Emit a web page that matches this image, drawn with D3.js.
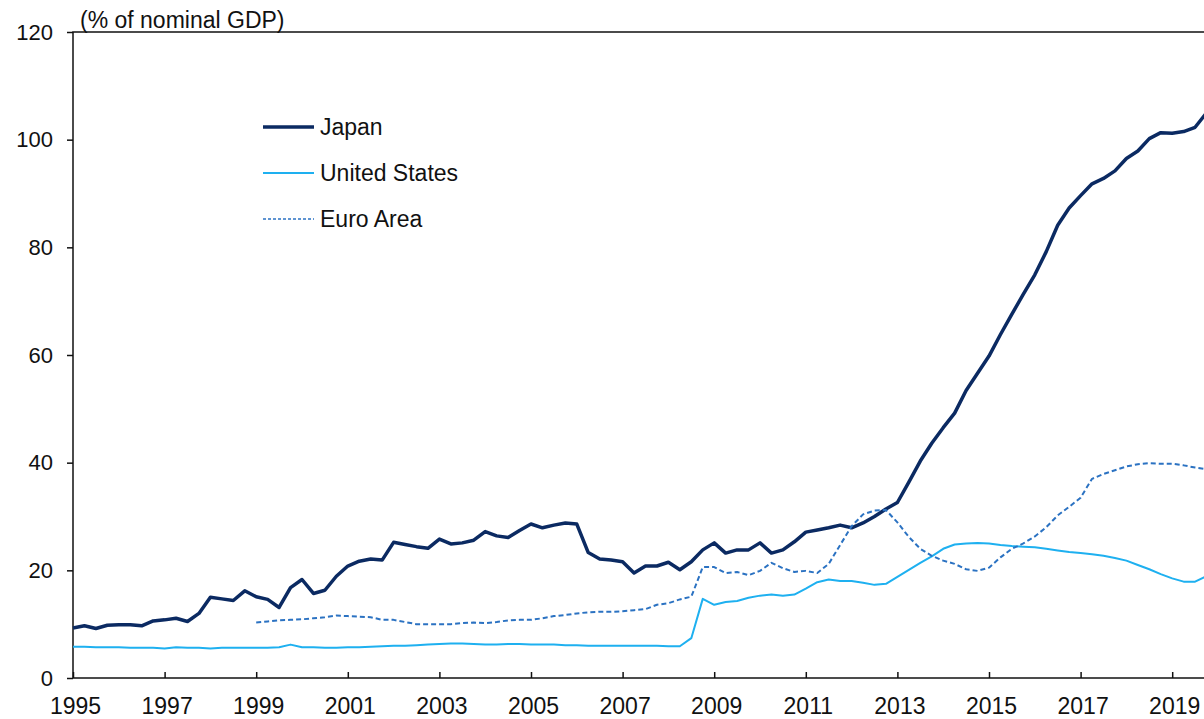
<!DOCTYPE html>
<html>
<head>
<meta charset="utf-8">
<script src="https://cdn.jsdelivr.net/npm/d3@7"></script>
<style>
  body { margin: 0; background: #fff; }
  text { font-family: "Liberation Sans", Arial, sans-serif; fill: #111; }
</style>
</head>
<body>
<div id="chart"></div>
<script>
var width = 1204;
var height = 719;

// quarterly data, first quarter 1995
var startYear = 1995;
var euroStart = 1999;

var japan = [
    9.3, 9.7, 9.2, 9.8,  9.9, 9.9, 9.7, 10.6,  10.8, 11.1, 10.5, 12.0,
    15.0, 14.7, 14.4, 16.2,  15.1, 14.6, 13.1, 16.8,  18.3, 15.7, 16.3, 18.9,
    20.8, 21.7, 22.1, 21.9,  25.2, 24.8, 24.4, 24.1,  25.8, 24.9, 25.1, 25.6,
    27.2, 26.4, 26.1, 27.4,  28.6, 27.9, 28.4, 28.8,  28.6, 23.3, 22.1, 21.9,
    21.6, 19.5, 20.8, 20.8,  21.5, 20.1, 21.6, 23.8,  25.1, 23.2, 23.8, 23.8,
    25.1, 23.2, 23.8, 25.3,  27.1, 27.5, 27.9, 28.4,  27.9, 28.8, 30.0, 31.4,
    32.6, 36.4, 40.3, 43.6,  46.5, 49.2, 53.4, 56.6,  59.8, 63.8, 67.6, 71.3,
    74.9, 79.2, 84.1, 87.3,  89.6, 91.8, 92.8, 94.2,  96.5, 97.9, 100.2, 101.3,
    101.2, 101.5, 102.3, 105.0
];

var unitedStates = [
    5.8, 5.8, 5.7, 5.7,  5.7, 5.6, 5.6, 5.6,  5.5, 5.7, 5.6, 5.6,
    5.5, 5.6, 5.6, 5.6,  5.6, 5.6, 5.7, 6.2,  5.7, 5.7, 5.6, 5.6,
    5.7, 5.7, 5.8, 5.9,  6.0, 6.0, 6.1, 6.2,  6.3, 6.4, 6.4, 6.3,
    6.2, 6.2, 6.3, 6.3,  6.2, 6.2, 6.2, 6.1,  6.1, 6.0, 6.0, 6.0,
    6.0, 6.0, 6.0, 6.0,  5.9, 5.9, 7.4, 14.7,  13.6, 14.1, 14.3, 14.9,
    15.3, 15.5, 15.3, 15.5,  16.6, 17.8, 18.3, 18.0,  18.0, 17.7, 17.3, 17.5,
    18.8, 20.1, 21.4, 22.6,  24.0, 24.8, 25.0, 25.1,  25.0, 24.7, 24.5, 24.4,
    24.3, 24.0, 23.7, 23.4,  23.2, 23.0, 22.7, 22.3,  21.8, 21.0, 20.2, 19.3,
    18.5, 17.9, 17.9, 18.9
];

var euroArea = [
    10.3, 10.5, 10.7, 10.8,  10.9, 11.1, 11.3, 11.6,  11.5, 11.4, 11.3, 10.8,
    10.8, 10.4, 10.0, 10.0,  10.0, 10.0, 10.2, 10.3,  10.2, 10.4, 10.7, 10.8,
    10.8, 11.1, 11.5, 11.7,  12.0, 12.2, 12.3, 12.3,  12.4, 12.6, 12.8, 13.6,
    13.9, 14.6, 15.1, 20.6,  20.6, 19.5, 19.7, 19.1,  19.9, 21.4, 20.4, 19.7,
    19.9, 19.5, 21.2, 24.7,  28.2, 30.4, 31.1, 31.2,  28.9, 26.2, 24.0, 22.7,
    21.8, 21.2, 20.2, 19.9,  20.5, 22.4, 24.0, 25.0,  26.3, 28.0, 30.2, 31.8,
    33.5, 37.0, 37.9, 38.6,  39.3, 39.7, 39.9, 39.8,  39.8, 39.5, 39.1, 38.8
];

var xTicks = [1995, 1997, 1999, 2001, 2003, 2005, 2007, 2009, 2011, 2013, 2015, 2017, 2019];
var yTicks = [0, 20, 40, 60, 80, 100, 120];

var series = [
    { name: "Japan", values: japan, start: startYear, color: "#0b2a62", width: 3.5, dash: null },
    { name: "United States", values: unitedStates, start: startYear, color: "#1eb0f0", width: 2, dash: null },
    { name: "Euro Area", values: euroArea, start: euroStart, color: "#2b72c2", width: 2, dash: "5,3" }
];

var plotLeft = 73, plotTop = 32, plotBottom = 678, plotRight = 73 + 25 * 45.8;

var x = d3.scaleLinear().domain([1995, 2020]).range([plotLeft, plotRight]);
var y = d3.scaleLinear().domain([0, 120]).range([plotBottom, plotTop]);

var svg = d3.select("#chart")
    .append("svg")
    .attr("width", width)
    .attr("height", height);

// frame
svg.append("rect")
    .attr("x", plotLeft)
    .attr("y", plotTop)
    .attr("width", plotRight - plotLeft)
    .attr("height", plotBottom - plotTop)
    .attr("fill", "none")
    .attr("stroke", "#111")
    .attr("stroke-width", 1.5);

var yAxis = svg.append("g")
    .attr("transform", "translate(" + plotLeft + ",0)")
    .call(d3.axisLeft(y).tickValues(yTicks).tickSize(6).tickPadding(14));

var xAxis = svg.append("g")
    .attr("transform", "translate(0," + plotBottom + ")")
    .call(d3.axisBottom(x).tickValues(xTicks).tickFormat(d3.format("d")).tickSize(-6));

svg.selectAll(".domain").remove();
svg.selectAll(".tick line").attr("stroke", "#111").attr("stroke-width", 1.5);
svg.selectAll(".tick text")
    .attr("font-family", "Liberation Sans, Arial, sans-serif")
    .attr("fill", "#111");
yAxis.selectAll(".tick text").attr("font-size", 22);
xAxis.selectAll(".tick text")
    .attr("font-size", 23)
    .attr("y", 36)
    .attr("dy", 0)
    .attr("dx", 2);

svg.append("text")
    .attr("x", 80)
    .attr("y", 28)
    .attr("font-size", 23)
    .text("(% of nominal GDP)");

var line = d3.line()
    .x((d) => x(d.t))
    .y((d) => y(d.v));

series.forEach(function (s) {
    var pts = s.values.map((v, i) => ({ t: s.start + i / 4, v: v }));
    svg.append("path")
        .datum(pts)
        .attr("fill", "none")
        .attr("stroke", s.color)
        .attr("stroke-width", s.width)
        .attr("stroke-linejoin", "round")
        .attr("stroke-dasharray", s.dash)
        .attr("d", line);
});

// legend
var legend = svg.selectAll(".legend")
    .data(series)
    .enter()
    .append("g")
    .attr("class", "legend")
    .attr("transform", (d, i) => "translate(263," + (127 + i * 46) + ")");

legend.append("line")
    .attr("x1", 0)
    .attr("x2", 51)
    .attr("stroke", (d) => d.color)
    .attr("stroke-width", (d, i) => i === 0 ? 3.5 : (i === 1 ? 2 : 1.5))
    .attr("stroke-dasharray", (d) => d.dash ? "3,2" : null);

legend.append("text")
    .attr("x", 57)
    .attr("dy", "0.35em")
    .attr("font-size", 23)
    .text((d) => d.name);
</script>
</body>
</html>
